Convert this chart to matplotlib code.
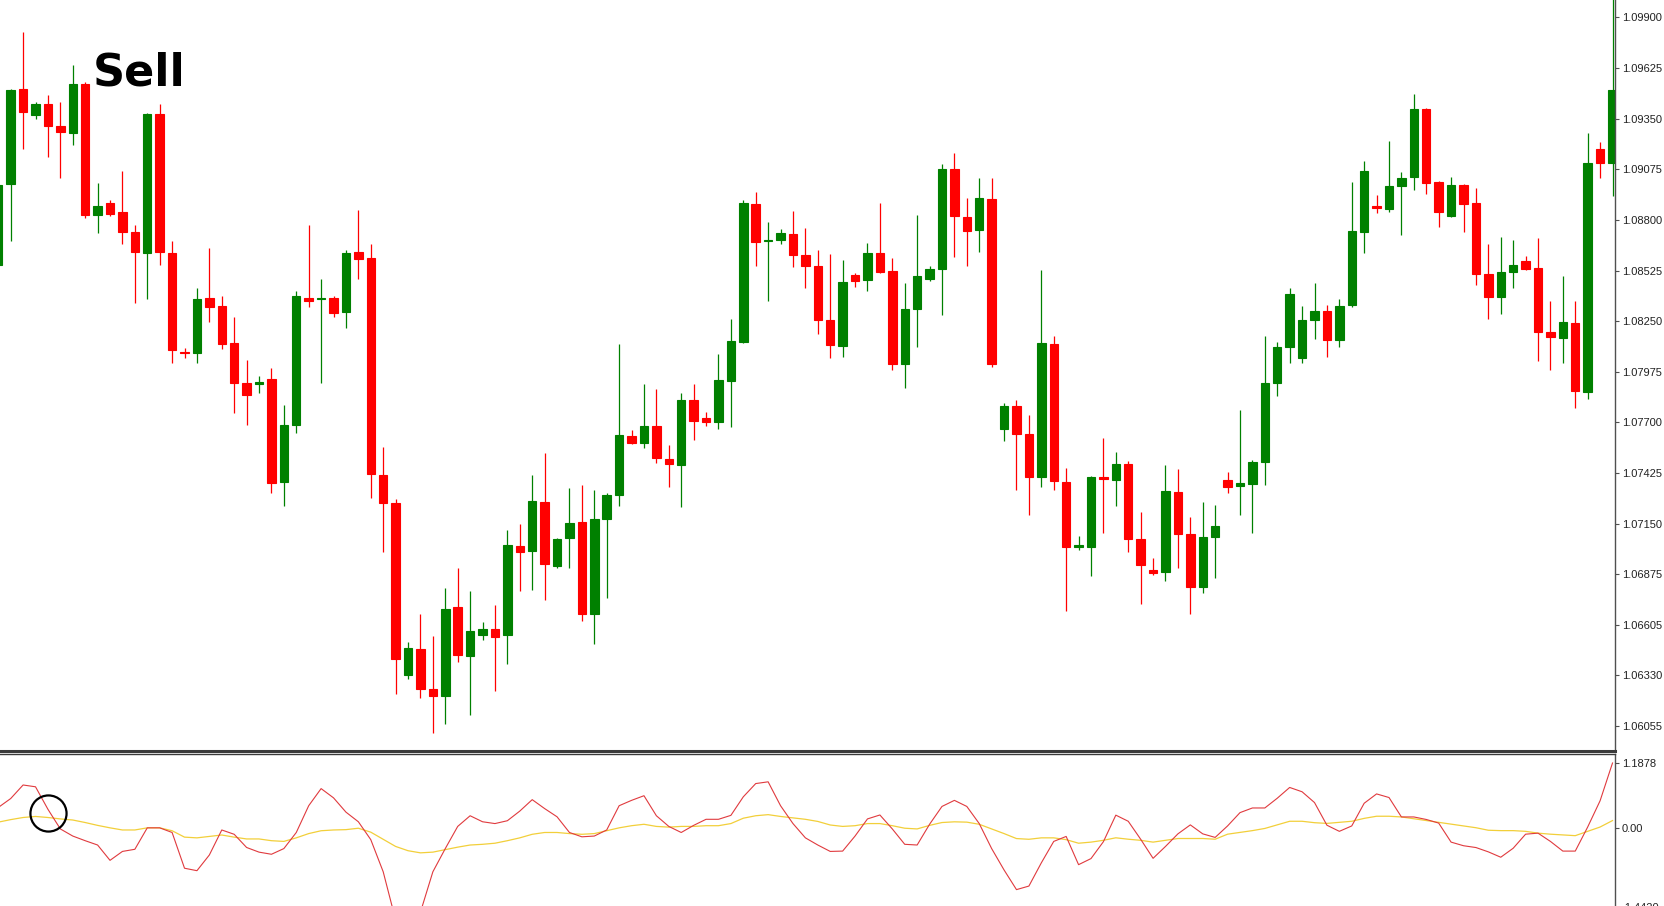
import numpy as np
import matplotlib
matplotlib.use("Agg")
from matplotlib import pyplot as plt

# OHLC, one value per bar
opens = [
    1.08555, 1.08997, 1.09513, 1.09368, 1.09429, 1.09308, 1.09271, 1.09537, 1.08828, 1.08894,
    1.08842, 1.08736, 1.08620, 1.09376, 1.08620, 1.08081, 1.08075, 1.08375, 1.08331, 1.08131,
    1.07912, 1.07909, 1.07933, 1.07375, 1.07683, 1.08378, 1.08368, 1.08375, 1.08302, 1.08626,
    1.08591, 1.07414, 1.07264, 1.06329, 1.06466, 1.06250, 1.06213, 1.06695, 1.06429, 1.06543,
    1.06579, 1.06543, 1.07027, 1.07003, 1.07267, 1.06922, 1.07072, 1.07156, 1.06661, 1.07172,
    1.07304, 1.07625, 1.07585, 1.07678, 1.07501, 1.07470, 1.07822, 1.07725, 1.07704, 1.07923,
    1.08136, 1.08886, 1.08684, 1.08689, 1.08726, 1.08610, 1.08547, 1.08257, 1.08117, 1.08499,
    1.08473, 1.08618, 1.08520, 1.08017, 1.08315, 1.08478, 1.08531, 1.09076, 1.08818, 1.08744,
    1.08915, 1.07662, 1.07788, 1.07635, 1.07401, 1.08125, 1.07377, 1.07022, 1.07025, 1.07401,
    1.07388, 1.07475, 1.07064, 1.06898, 1.06885, 1.07322, 1.07093, 1.06803, 1.07077, 1.07385,
    1.07354, 1.07367, 1.07483, 1.07912, 1.08109, 1.08052, 1.08257, 1.08307, 1.08149, 1.08336,
    1.08736, 1.08876, 1.08860, 1.08986, 1.09031, 1.09405, 1.09005, 1.08823, 1.08992, 1.08894,
    1.08504, 1.08383, 1.08515, 1.08578, 1.08539, 1.08191, 1.08157, 1.08239, 1.07867, 1.09187,
    1.09108,
]
highs = [
    1.09007, 1.09510, 1.09819, 1.09442, 1.09481, 1.09442, 1.09642, 1.09547, 1.09000, 1.08910,
    1.09065, 1.08770, 1.09381, 1.09429, 1.08686, 1.08104, 1.08428, 1.08647, 1.08389, 1.08270,
    1.08038, 1.07954, 1.07994, 1.07793, 1.08412, 1.08773, 1.08481, 1.08389, 1.08636, 1.08855,
    1.08670, 1.07567, 1.07283, 1.06506, 1.06656, 1.06540, 1.06801, 1.06906, 1.06782, 1.06616,
    1.06709, 1.07117, 1.07148, 1.07412, 1.07533, 1.07072, 1.07341, 1.07359, 1.07333, 1.07314,
    1.08128, 1.07657, 1.07909, 1.07880, 1.07578, 1.07862, 1.07907, 1.07757, 1.08073, 1.08260,
    1.08910, 1.08952, 1.08789, 1.08749, 1.08849, 1.08755, 1.08636, 1.08615, 1.08583, 1.08512,
    1.08676, 1.08894, 1.08594, 1.08457, 1.08826, 1.08547, 1.09105, 1.09163, 1.08918, 1.09026,
    1.09026, 1.07807, 1.07820, 1.07741, 1.08528, 1.08167, 1.07451, 1.07085, 1.07409, 1.07617,
    1.07538, 1.07491, 1.07212, 1.06961, 1.07467, 1.07446, 1.07185, 1.07267, 1.07251, 1.07430,
    1.07765, 1.07493, 1.08170, 1.08138, 1.08428, 1.08331, 1.08457, 1.08336, 1.08370, 1.09005,
    1.09121, 1.08936, 1.09229, 1.09060, 1.09484, 1.09410, 1.09010, 1.09031, 1.08997, 1.08971,
    1.08670, 1.08707, 1.08689, 1.08605, 1.08702, 1.08360, 1.08497, 1.08357, 1.09273, 1.09221,
    1.10050,
]
lows = [
    1.08533, 1.08684, 1.09184, 1.09350, 1.09144, 1.09026, 1.09205, 1.08810, 1.08728, 1.08823,
    1.08670, 1.08349, 1.08368, 1.08555, 1.08020, 1.08052, 1.08025, 1.08244, 1.08099, 1.07751,
    1.07683, 1.07857, 1.07314, 1.07248, 1.07643, 1.08325, 1.07915, 1.08270, 1.08210, 1.08478,
    1.07291, 1.06998, 1.06224, 1.06303, 1.06203, 1.06011, 1.06061, 1.06400, 1.06108, 1.06519,
    1.06242, 1.06385, 1.06782, 1.06788, 1.06737, 1.06906, 1.06906, 1.06622, 1.06498, 1.06743,
    1.07243, 1.07580, 1.07559, 1.07477, 1.07351, 1.07240, 1.07604, 1.07678, 1.07662, 1.07675,
    1.08133, 1.08547, 1.08357, 1.08670, 1.08544, 1.08431, 1.08178, 1.08049, 1.08057, 1.08433,
    1.08412, 1.08512, 1.07983, 1.07888, 1.08112, 1.08468, 1.08283, 1.08597, 1.08547, 1.08623,
    1.07999, 1.07601, 1.07330, 1.07196, 1.07351, 1.07330, 1.06677, 1.07006, 1.06867, 1.07101,
    1.07248, 1.06998, 1.06714, 1.06872, 1.06840, 1.06909, 1.06658, 1.06772, 1.06856, 1.07317,
    1.07198, 1.07101, 1.07362, 1.07841, 1.08020, 1.08025, 1.08152, 1.08057, 1.08109, 1.08325,
    1.08620, 1.08836, 1.08842, 1.08720, 1.08960, 1.08939, 1.08760, 1.08818, 1.08734, 1.08444,
    1.08262, 1.08286, 1.08428, 1.08528, 1.08033, 1.07986, 1.08023, 1.07778, 1.07825, 1.09029,
    1.08928,
]
closes = [
    1.08989, 1.09505, 1.09389, 1.09429, 1.09313, 1.09276, 1.09537, 1.08828, 1.08873, 1.08834,
    1.08736, 1.08623, 1.09376, 1.08623, 1.08091, 1.08075, 1.08370, 1.08325, 1.08125, 1.07912,
    1.07846, 1.07920, 1.07372, 1.07683, 1.08386, 1.08362, 1.08375, 1.08296, 1.08620, 1.08586,
    1.07420, 1.07264, 1.06414, 1.06474, 1.06250, 1.06211, 1.06687, 1.06435, 1.06566, 1.06579,
    1.06535, 1.07032, 1.06993, 1.07272, 1.06932, 1.07067, 1.07151, 1.06658, 1.07175, 1.07304,
    1.07633, 1.07585, 1.07678, 1.07504, 1.07472, 1.07822, 1.07709, 1.07704, 1.07930, 1.08144,
    1.08892, 1.08678, 1.08691, 1.08728, 1.08607, 1.08552, 1.08254, 1.08120, 1.08465, 1.08468,
    1.08618, 1.08515, 1.08017, 1.08318, 1.08494, 1.08533, 1.09076, 1.08823, 1.08741, 1.08918,
    1.08017, 1.07788, 1.07635, 1.07401, 1.08131, 1.07380, 1.07025, 1.07032, 1.07404, 1.07391,
    1.07475, 1.07064, 1.06924, 1.06880, 1.07327, 1.07093, 1.06803, 1.07077, 1.07138, 1.07351,
    1.07370, 1.07483, 1.07915, 1.08107, 1.08397, 1.08257, 1.08307, 1.08149, 1.08333, 1.08741,
    1.09068, 1.08865, 1.08986, 1.09026, 1.09405, 1.09000, 1.08842, 1.08989, 1.08889, 1.08504,
    1.08383, 1.08515, 1.08557, 1.08533, 1.08191, 1.08165, 1.08244, 1.07870, 1.09108, 1.09108,
    1.09508,
]

# oscillator window: main line (red) and signal line (yellow)
osc_main = [
    0.375, 0.538, 0.786, 0.753, 0.342, -0.017, -0.147, -0.232, -0.311, -0.591,
    -0.428, -0.389, 0.003, 0.003, -0.082, -0.735, -0.780, -0.493, -0.036, -0.115,
    -0.356, -0.441, -0.480, -0.376, -0.082, 0.407, 0.720, 0.551, 0.290, 0.114,
    -0.213, -0.800, -1.681, -1.779, -1.538, -0.800, -0.376, 0.029, 0.224, 0.114,
    0.081, 0.133, 0.309, 0.518, 0.355, 0.205, -0.082, -0.161, -0.147, -0.036,
    0.407, 0.505, 0.590, 0.224, 0.029, -0.082, 0.048, 0.159, 0.159, 0.231,
    0.570, 0.812, 0.844, 0.407, 0.081, -0.180, -0.311, -0.428, -0.422, -0.147,
    0.166, 0.238, -0.017, -0.298, -0.311, 0.068, 0.394, 0.505, 0.394, 0.081,
    -0.376, -0.767, -1.126, -1.061, -0.637, -0.245, -0.154, -0.670, -0.559, -0.250,
    0.235, 0.123, -0.205, -0.554, -0.337, -0.107, 0.057, -0.107, -0.172, 0.038,
    0.281, 0.366, 0.366, 0.544, 0.741, 0.662, 0.465, 0.051, -0.061, 0.038,
    0.452, 0.623, 0.557, 0.202, 0.202, 0.156, 0.090, -0.258, -0.324, -0.357,
    -0.436, -0.534, -0.370, -0.113, -0.094, -0.245, -0.422, -0.422, 0.018, 0.498,
    1.188,
]
osc_signal = [
    0.107, 0.153, 0.192, 0.211, 0.192, 0.166, 0.146, 0.100, 0.048, 0.003,
    -0.036, -0.036, 0.003, 0.003, -0.050, -0.167, -0.180, -0.154, -0.128, -0.167,
    -0.200, -0.200, -0.232, -0.245, -0.180, -0.102, -0.050, -0.036, -0.030, -0.004,
    -0.076, -0.206, -0.337, -0.415, -0.454, -0.441, -0.395, -0.350, -0.311, -0.298,
    -0.278, -0.232, -0.180, -0.115, -0.082, -0.082, -0.102, -0.115, -0.102, -0.050,
    0.003, 0.042, 0.068, 0.029, 0.016, 0.029, 0.029, 0.042, 0.042, 0.081,
    0.179, 0.224, 0.244, 0.211, 0.185, 0.159, 0.120, 0.055, 0.029, 0.042,
    0.081, 0.081, 0.042, -0.004, -0.017, 0.048, 0.100, 0.113, 0.107, 0.068,
    -0.017, -0.102, -0.193, -0.206, -0.180, -0.180, -0.213, -0.278, -0.258, -0.225,
    -0.179, -0.205, -0.225, -0.258, -0.225, -0.192, -0.192, -0.192, -0.205, -0.113,
    -0.081, -0.048, -0.008, 0.057, 0.123, 0.123, 0.097, 0.084, 0.103, 0.123,
    0.176, 0.215, 0.215, 0.202, 0.169, 0.136, 0.103, 0.071, 0.038, 0.005,
    -0.041, -0.048, -0.048, -0.061, -0.094, -0.113, -0.127, -0.140, -0.061, 0.018,
    0.136,
]

price_ticks = [1.09900, 1.09625, 1.09350, 1.09075, 1.08800, 1.08525, 1.08250, 1.07975,
               1.07700, 1.07425, 1.07150, 1.06875, 1.06600, 1.06325, 1.06050]
price_labels = ["1.09900", "1.09625", "1.09350", "1.09075", "1.08800", "1.08525", "1.08250",
                "1.07975", "1.07700", "1.07425", "1.07150", "1.06875", "1.06605", "1.06330",
                "1.06055"]
osc_ticks = [1.1878, 0.0, -1.4420]
osc_labels = ["1.1878", "0.00", "-1.4420"]

signal_bar = 4  # bar where the red line crosses down through the signal line


def main():
    plt.rcParams["font.family"] = ["Liberation Sans", "DejaVu Sans"]

    W, H = 1664, 906
    fig = plt.figure(figsize=(W / 100, H / 100), dpi=100)
    fig.patch.set_facecolor("white")

    right = 1615 / W
    split = 751 / H
    ax = fig.add_axes([0, 1 - split, right, split])
    ax2 = fig.add_axes([0, -0.03, right, 1 - 754 / H + 0.03])

    x = np.arange(len(opens))
    o = np.array(opens)
    c = np.array(closes)
    up = c >= o
    colors = np.where(up, "#008000", "#ff0000")

    # wicks
    ax.vlines(x, lows, highs, colors=colors, linewidth=0.9, zorder=1)
    # bodies
    ax.bar(x, np.abs(c - o), bottom=np.minimum(o, c), width=0.68,
           color=colors, edgecolor=colors, linewidth=0.8, zorder=2)

    ax.set_xlim(0.14, 130.2)
    ax.set_ylim(1.05914, 1.09995)
    ax.yaxis.tick_right()
    ax.set_yticks(price_ticks)
    ax.set_yticklabels(price_labels)
    ax.set_xticks([])
    for s in ["left", "top"]:
        ax.spines[s].set_visible(False)
    ax.spines["right"].set_color("#505050")
    ax.spines["right"].set_linewidth(1.0)
    ax.spines["bottom"].set_color("#3a3a3a")
    ax.spines["bottom"].set_linewidth(2.2)
    ax.tick_params(axis="y", direction="out", length=3, width=0.8, color="#505050",
                   labelsize=8, labelcolor="#222222", pad=2)

    # "Sell" signal text
    fig.text(93 / W, 1 - 85 / H, "Sell", fontsize=32, fontweight="bold",
             family="DejaVu Sans", color="black", va="baseline", ha="left")

    # oscillator window
    ax2.plot(x, osc_main, color="#e03a3e", linewidth=0.8, zorder=3)
    ax2.plot(x, osc_signal, color="#f2cf3a", linewidth=0.9, zorder=2)
    cross_y = (osc_main[signal_bar] + osc_signal[signal_bar]) / 2
    ax2.plot(signal_bar, cross_y, marker="o", markersize=26, markerfacecolor="none",
             markeredgecolor="black", markeredgewidth=1.6, zorder=4)

    ax2.set_xlim(0.14, 130.2)
    ax2.set_ylim(-1.922, 1.3523)
    ax2.yaxis.tick_right()
    ax2.set_yticks(osc_ticks)
    ax2.set_yticklabels(osc_labels)
    ax2.set_xticks([])
    for s in ["left", "bottom"]:
        ax2.spines[s].set_visible(False)
    ax2.spines["top"].set_color("#3a3a3a")
    ax2.spines["top"].set_linewidth(1.0)
    ax2.spines["right"].set_color("#505050")
    ax2.spines["right"].set_linewidth(1.0)
    ax2.tick_params(axis="y", direction="out", length=3, width=0.8, color="#505050",
                    labelsize=8, labelcolor="#222222", pad=2)

    fig.savefig("out.png", dpi=100, facecolor="white")


if __name__ == "__main__":
    main()
